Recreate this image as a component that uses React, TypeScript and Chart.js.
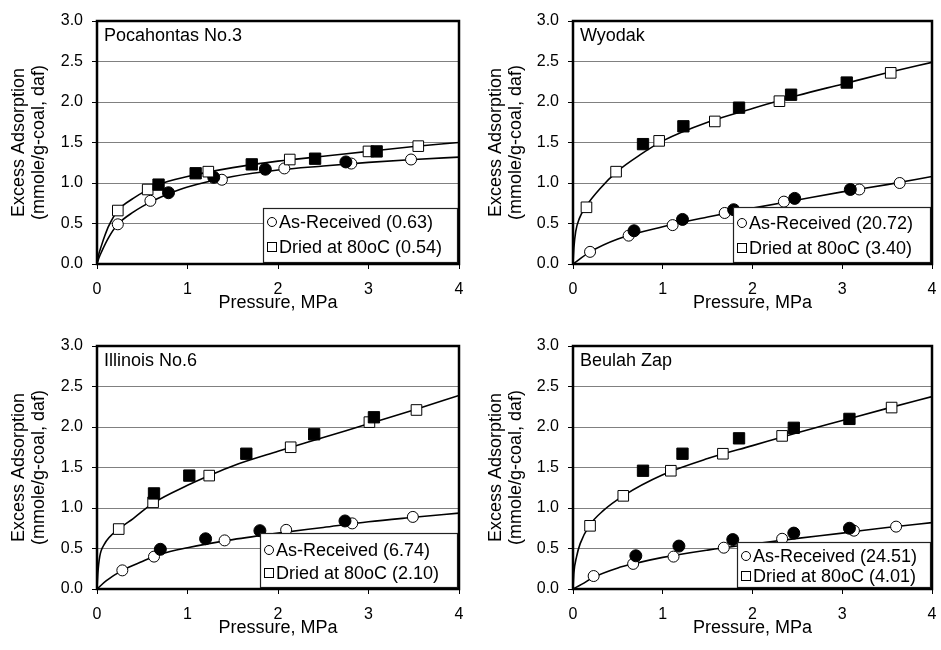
import React, { useEffect, useRef } from "react";
import { Chart, registerables } from "chart.js";

Chart.register(...registerables);

type P = [number, number];

// ---------- shared axes ----------
const xTickValues = [0, 1, 2, 3, 4];
const yTickValues = [0, 0.5, 1.0, 1.5, 2.0, 2.5, 3.0];
const xAxisTitle = "Pressure, MPa";
const yAxisTitle = ["Excess Adsorption", "(mmole/g-coal, daf)"];

// ---------- Pocahontas No.3 ----------
const pocaTitle = "Pocahontas No.3";
const pocaLegend = ["As-Received (0.63)", "Dried at 80oC (0.54)"];
const pocaArOpen: P[] = [[0.23, 0.49], [0.59, 0.78], [1.38, 1.04], [2.07, 1.18], [2.81, 1.24], [3.47, 1.29]];
const pocaArFilled: P[] = [[0.79, 0.88], [1.29, 1.07], [1.86, 1.17], [2.75, 1.26]];
const pocaDrOpen: P[] = [[0.23, 0.66], [0.56, 0.92], [1.23, 1.14], [2.13, 1.29], [3.0, 1.39], [3.55, 1.455]];
const pocaDrFilled: P[] = [[0.68, 0.98], [1.09, 1.12], [1.71, 1.23], [2.41, 1.30], [3.09, 1.39]];
const pocaArFit: P[] = [[0, 0], [0.02, 0.07], [0.05, 0.15], [0.125, 0.32], [0.23, 0.49], [0.4, 0.64], [0.6, 0.77], [0.8, 0.87], [1.0, 0.95], [1.5, 1.08], [2.0, 1.16], [2.5, 1.21], [3.0, 1.255], [3.5, 1.29], [4.0, 1.32]];
const pocaDrFit: P[] = [[0, 0], [0.015, 0.1], [0.05, 0.23], [0.09, 0.36], [0.13, 0.47], [0.23, 0.66], [0.4, 0.81], [0.68, 0.98], [1.0, 1.08], [1.5, 1.19], [2.0, 1.27], [2.5, 1.33], [3.0, 1.39], [3.5, 1.45], [4.0, 1.50]];

// ---------- Wyodak ----------
const wyoTitle = "Wyodak";
const wyoLegend = ["As-Received (20.72)", "Dried at 80oC (3.40)"];
const wyoArOpen: P[] = [[0.19, 0.15], [0.62, 0.35], [1.11, 0.48], [1.69, 0.63], [2.35, 0.77], [3.19, 0.92], [3.64, 1.0]];
const wyoArFilled: P[] = [[0.68, 0.41], [1.22, 0.55], [1.79, 0.67], [2.47, 0.81], [3.09, 0.92]];
const wyoDrOpen: P[] = [[0.15, 0.70], [0.48, 1.14], [0.96, 1.52], [1.58, 1.76], [2.30, 2.01], [3.54, 2.36]];
const wyoDrFilled: P[] = [[0.78, 1.48], [1.23, 1.70], [1.85, 1.93], [2.43, 2.09], [3.05, 2.24]];
const wyoArFit: P[] = [[0, 0], [0.19, 0.15], [0.5, 0.31], [1.0, 0.46], [1.5, 0.58], [2.0, 0.69], [2.5, 0.79], [3.0, 0.89], [3.5, 0.98], [4.0, 1.08]];
const wyoDrFit: P[] = [[0, 0], [0.01, 0.2], [0.03, 0.4], [0.07, 0.56], [0.15, 0.72], [0.3, 0.93], [0.5, 1.15], [0.75, 1.35], [1.0, 1.52], [1.5, 1.75], [2.0, 1.92], [2.5, 2.08], [3.0, 2.22], [3.5, 2.36], [4.0, 2.49]];

// ---------- Illinois No.6 ----------
const illTitle = "Illinois No.6";
const illLegend = ["As-Received (6.74)", "Dried at 80oC (2.10)"];
const illArOpen: P[] = [[0.28, 0.23], [0.63, 0.40], [1.41, 0.60], [2.09, 0.73], [2.82, 0.81], [3.49, 0.89]];
const illArFilled: P[] = [[0.70, 0.49], [1.20, 0.62], [1.80, 0.72], [2.74, 0.84]];
const illDrOpen: P[] = [[0.24, 0.74], [0.62, 1.07], [1.24, 1.40], [2.14, 1.75], [3.01, 2.06], [3.53, 2.21]];
const illDrFilled: P[] = [[0.63, 1.18], [1.02, 1.40], [1.65, 1.67], [2.40, 1.91], [3.06, 2.12]];
const illArFit: P[] = [[0, 0], [0.1, 0.1], [0.28, 0.23], [0.5, 0.34], [0.7, 0.43], [1.0, 0.51], [1.5, 0.61], [2.0, 0.69], [2.5, 0.76], [3.0, 0.83], [3.5, 0.885], [4.0, 0.937]];
const illDrFit: P[] = [[0, 0], [0.01, 0.2], [0.03, 0.4], [0.08, 0.55], [0.24, 0.74], [0.4, 0.87], [0.62, 1.06], [1.0, 1.28], [1.24, 1.40], [1.5, 1.52], [2.0, 1.70], [2.5, 1.87], [3.0, 2.04], [3.5, 2.21], [4.0, 2.39]];

// ---------- Beulah Zap ----------
const beuTitle = "Beulah Zap";
const beuLegend = ["As-Received (24.51)", "Dried at 80oC (4.01)"];
const beuArOpen: P[] = [[0.23, 0.16], [0.67, 0.31], [1.12, 0.40], [1.68, 0.51], [2.33, 0.62], [3.13, 0.72], [3.60, 0.77]];
const beuArFilled: P[] = [[0.70, 0.41], [1.18, 0.53], [1.78, 0.61], [2.46, 0.69], [3.08, 0.75]];
const beuDrOpen: P[] = [[0.19, 0.78], [0.56, 1.15], [1.09, 1.46], [1.67, 1.67], [2.33, 1.89], [3.55, 2.24]];
const beuDrFilled: P[] = [[0.78, 1.46], [1.22, 1.67], [1.85, 1.86], [2.46, 1.99], [3.08, 2.10]];
const beuArFit: P[] = [[0, 0], [0.1, 0.06], [0.23, 0.145], [0.5, 0.26], [0.67, 0.31], [1.0, 0.39], [1.5, 0.48], [2.0, 0.555], [2.5, 0.625], [3.0, 0.69], [3.5, 0.76], [4.0, 0.82]];
const beuDrFit: P[] = [[0, 0], [0.01, 0.2], [0.04, 0.4], [0.08, 0.56], [0.18, 0.78], [0.34, 0.97], [0.56, 1.15], [1.0, 1.41], [1.5, 1.61], [2.0, 1.77], [2.5, 1.93], [3.0, 2.08], [3.5, 2.23], [4.0, 2.375]];

const FONT = '"Liberation Sans", Arial, Helvetica, sans-serif';

type PanelCfg = {
  title: string;
  legend: string[];
  arOpen: P[];
  arFilled: P[];
  drOpen: P[];
  drFilled: P[];
  arFit: P[];
  drFit: P[];
  // layout
  left: number;
  top: number;
  w: number;
  h: number;
  yAxisW: number;
  padRight: number;
  yTitlePad: number;
  legW: number;
  legH: number;
  legY1: number;
  legY2: number;
};

const toXY = (a: P[]) => a.map(([x, y]) => ({ x, y }));

const decorPlugin = {
  id: "decor",
  afterDatasetsDraw(chart: any, _args: any, opts: any) {
    const { ctx, chartArea: a } = chart;
    ctx.save();
    // panel title
    ctx.font = `18px ${FONT}`;
    ctx.fillStyle = "#000";
    ctx.textBaseline = "middle";
    ctx.textAlign = "left";
    ctx.fillText(opts.title, a.left + 7, a.top + 15);
    // legend box
    const bx = a.right - opts.legW;
    const by = a.bottom - opts.legH;
    ctx.fillStyle = "#fff";
    ctx.fillRect(bx, by, opts.legW, opts.legH);
    ctx.strokeStyle = "#222";
    ctx.lineWidth = 1.2;
    ctx.strokeRect(bx + 0.5, by + 0.5, opts.legW - 2, opts.legH - 2);
    const y1 = a.bottom - opts.legY1;
    const y2 = a.bottom - opts.legY2;
    ctx.strokeStyle = "#000";
    ctx.lineWidth = 1;
    ctx.beginPath();
    ctx.arc(bx + 9, y1, 4.5, 0, Math.PI * 2);
    ctx.stroke();
    ctx.strokeRect(bx + 4.5, y2 - 4.5, 9, 9);
    ctx.fillStyle = "#000";
    ctx.font = `18px ${FONT}`;
    ctx.fillText(opts.legend[0], bx + 16, y1 + 1);
    ctx.fillText(opts.legend[1], bx + 16, y2 + 1);
    // plot border
    ctx.lineWidth = 2.5;
    ctx.strokeStyle = "#000";
    ctx.strokeRect(a.left, a.top, a.right - a.left, a.bottom - a.top);
    ctx.restore();
  },
};

function Panel({ cfg }: { cfg: PanelCfg }) {
  const ref = useRef<HTMLCanvasElement>(null);
  useEffect(() => {
    const marker = (data: P[], style: string, r: number, fill: string, order: number) => ({
      data: toXY(data),
      showLine: false,
      pointStyle: style,
      pointRadius: r,
      pointBackgroundColor: fill,
      pointBorderColor: "#000",
      pointBorderWidth: 1,
      backgroundColor: fill,
      borderColor: "#000",
      order,
    });
    const fit = (data: P[]) => ({
      data: toXY(data),
      showLine: true,
      pointRadius: 0,
      borderColor: "#000",
      borderWidth: 1.6,
      cubicInterpolationMode: "monotone",
      fill: false,
      order: 10,
    });
    const chart = new Chart(ref.current as HTMLCanvasElement, {
      type: "scatter",
      data: {
        datasets: [
          fit(cfg.arFit),
          fit(cfg.drFit),
          marker(cfg.arOpen, "circle", 5.5, "#fff", 4),
          marker(cfg.arFilled, "circle", 6, "#000", 3),
          marker(cfg.drOpen, "rect", 7.5, "#fff", 2),
          marker(cfg.drFilled, "rect", 8, "#000", 1),
        ] as any,
      },
      options: {
        responsive: false,
        animation: false,
        events: [],
        layout: { padding: { left: 0, top: 21, right: cfg.padRight, bottom: 0 } },
        plugins: {
          legend: { display: false },
          tooltip: { enabled: false },
          decor: {
            title: cfg.title,
            legend: cfg.legend,
            legW: cfg.legW,
            legH: cfg.legH,
            legY1: cfg.legY1,
            legY2: cfg.legY2,
          },
        } as any,
        scales: {
          x: {
            type: "linear",
            min: 0,
            max: 4,
            afterBuildTicks: (s: any) => {
              s.ticks = xTickValues.map((v) => ({ value: v }));
            },
            afterFit: (s: any) => {
              s.height = 61;
              s.paddingLeft = 0;
              s.paddingRight = 0;
            },
            grid: { drawOnChartArea: false, tickColor: "#000", tickLength: 5, tickWidth: 1 },
            border: { display: false },
            ticks: {
              color: "#000",
              font: { family: FONT, size: 16 },
              padding: 11,
              maxRotation: 0,
              callback: (v: any) => String(v),
            },
            title: {
              display: true,
              text: xAxisTitle,
              color: "#000",
              font: { family: FONT, size: 18, lineHeight: 1.1 },
              padding: { top: 0, bottom: 12 },
            },
          },
          y: {
            type: "linear",
            min: 0,
            max: 3,
            afterBuildTicks: (s: any) => {
              s.ticks = yTickValues.map((v) => ({ value: v }));
            },
            afterFit: (s: any) => {
              s.width = cfg.yAxisW;
              s.paddingTop = 0;
              s.paddingBottom = 0;
            },
            grid: { color: "#808080", lineWidth: 1, tickColor: "#000", tickLength: 5 },
            border: { display: false },
            ticks: {
              color: "#000",
              font: { family: FONT, size: 16 },
              padding: 9,
              callback: (v: any) => Number(v).toFixed(1),
            },
            title: {
              display: true,
              text: yAxisTitle,
              color: "#000",
              font: { family: FONT, size: 18, lineHeight: 1.1 },
              padding: { top: cfg.yTitlePad, bottom: 0 },
            },
          },
        },
      },
      plugins: [decorPlugin],
    } as any);
    return () => chart.destroy();
  }, [cfg]);
  return (
    <canvas
      ref={ref}
      width={cfg.w}
      height={cfg.h}
      style={{ position: "absolute", left: cfg.left, top: cfg.top, width: cfg.w, height: cfg.h }}
    />
  );
}

const panels: PanelCfg[] = [
  {
    title: pocaTitle, legend: pocaLegend,
    arOpen: pocaArOpen, arFilled: pocaArFilled, drOpen: pocaDrOpen, drFilled: pocaDrFilled,
    arFit: pocaArFit, drFit: pocaDrFit,
    left: 0, top: 0, w: 470, h: 325, yAxisW: 97, padRight: 11, yTitlePad: 9,
    legW: 196, legH: 56, legY1: 42, legY2: 17,
  },
  {
    title: wyoTitle, legend: wyoLegend,
    arOpen: wyoArOpen, arFilled: wyoArFilled, drOpen: wyoDrOpen, drFilled: wyoDrFilled,
    arFit: wyoArFit, drFit: wyoDrFit,
    left: 470, top: 0, w: 471, h: 325, yAxisW: 103, padRight: 8, yTitlePad: 16,
    legW: 199, legH: 57, legY1: 41, legY2: 16,
  },
  {
    title: illTitle, legend: illLegend,
    arOpen: illArOpen, arFilled: illArFilled, drOpen: illDrOpen, drFilled: illDrFilled,
    arFit: illArFit, drFit: illDrFit,
    left: 0, top: 325, w: 470, h: 325, yAxisW: 97, padRight: 11, yTitlePad: 9,
    legW: 199, legH: 56, legY1: 39, legY2: 16,
  },
  {
    title: beuTitle, legend: beuLegend,
    arOpen: beuArOpen, arFilled: beuArFilled, drOpen: beuDrOpen, drFilled: beuDrFilled,
    arFit: beuArFit, drFit: beuDrFit,
    left: 470, top: 325, w: 471, h: 325, yAxisW: 103, padRight: 8, yTitlePad: 16,
    legW: 195, legH: 47, legY1: 33, legY2: 13,
  },
];

export default function App() {
  return (
    <div style={{ position: "absolute", left: 0, top: 0, width: 941, height: 650, background: "#fff" }}>
      {panels.map((p, i) => (
        <Panel key={i} cfg={p} />
      ))}
    </div>
  );
}
